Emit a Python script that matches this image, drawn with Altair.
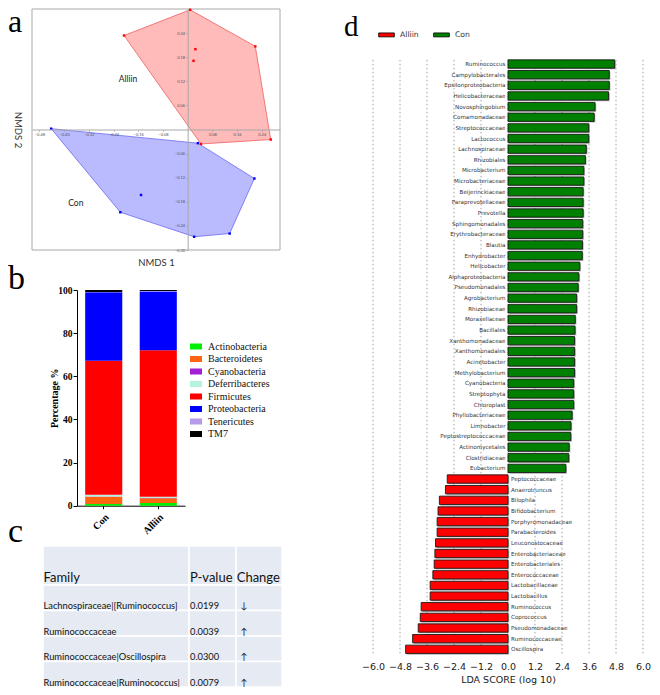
import altair as alt
import pandas as pd

# ====================== DATA ======================
# (a) NMDS ordination
NMDS_GROUP = ["Alliin"] * 7 + ["Con"] * 7
NMDS1 = [0.008, -0.206, 0.219, 0.025, 0.019, 0.269, 0.043,
         -0.442, 0.033, 0.216, 0.136, 0.021, -0.218, -0.151]
NMDS2 = [0.298, 0.234, 0.207, 0.200, 0.171, -0.025, -0.036,
         0.002, -0.034, -0.122, -0.259, -0.267, -0.206, -0.163]
HULL_ALLIIN = [0, 2, 5, 6, 1, 0]
HULL_CON = [7, 8, 9, 10, 11, 12, 7]
GROUP_NAMES = ["Alliin", "Con"]
GROUP_LABEL_X = [-0.193, -0.362]
GROUP_LABEL_Y = [0.126, -0.183]
NMDS1_TICKS = [-0.48, -0.40, -0.32, -0.24, -0.16, -0.08, 0.08, 0.16, 0.24]
NMDS2_TICKS = [0.24, 0.18, 0.12, 0.06, -0.06, -0.12, -0.18, -0.24, -0.30]

# (b) phylum composition (%)
SAMPLES = ["Con", "Alliin"]
PHYLA = ["Actinobacteria", "Bacteroidetes", "Cyanobacteria", "Deferribacteres",
         "Firmicutes", "Proteobacteria", "Tenericutes", "TM7"]
CON_PCT = [0.8, 3.4, 0.1, 0.8, 62.1, 31.8, 0.1, 0.9]
ALLIIN_PCT = [1.3, 2.2, 0.1, 0.5, 68.0, 27.2, 0.2, 0.5]
PCT_TICKS = [0, 20, 40, 60, 80, 100]

# (c) table
TABLE_HEADER = ["Family", "P-value", "Change"]
FAMILY = ["Lachnospiraceae|[Ruminococcus]", "Ruminococcaceae",
          "Ruminococcaceae|Oscillospira", "Ruminococcaceae|Ruminococcus|"]
PVALUE = ["0.0199", "0.0039", "0.0300", "0.0079"]
CHANGE = ["\u2193", "\u2191", "\u2191", "\u2191"]

# (d) LEfSe LDA scores
LDA_TAXA = ["Ruminococcus", "Campylobacterales", "Epsilonproteobacteria", "Helicobacteraceae",
            "Novosphingobium", "Comamonadaceae", "Streptococcaceae", "Lactococcus",
            "Lachnospiraceae", "Rhizobiales", "Microbacterium", "Microbacteriaceae",
            "Beijerinckiaceae", "Paraprevotellaceae", "Prevotella", "Sphingomonadales",
            "Erythrobacteraceae", "Blautia", "Enhydrobacter", "Helicobacter",
            "Alphaproteobacteria", "Pseudomonadales", "Agrobacterium", "Rhizobiaceae",
            "Moraxellaceae", "Bacillales", "Xanthomonadaceae", "Xanthomonadales",
            "Acinetobacter", "Methylobacterium", "Cyanobacteria", "Streptophyta",
            "Chloroplast", "Phyllobacteriaceae", "Limnobacter", "Peptostreptococcaceae",
            "Actinomycetales", "Clostridiaceae", "Eubacterium",
            "Peptococcaceae", "Anaerotruncus", "Bilophila", "Bifidobacterium",
            "Porphyromonadaceae", "Parabacteroides", "Leuconostocaceae", "Enterobacteriaceae",
            "Enterobacteriales", "Enterococcaceae", "Lactobacillaceae", "Lactobacillus",
            "Ruminococcus", "Coprococcus", "Pseudomonadaceae", "Ruminococcaceae", "Oscillospira"]
LDA_GROUP = ["Con"] * 39 + ["Alliin"] * 17
LDA_SCORE = [4.74, 4.50, 4.50, 4.47, 3.87, 3.83, 3.59, 3.59, 3.48, 3.44, 3.37, 3.37,
             3.34, 3.34, 3.34, 3.32, 3.32, 3.31, 3.30, 3.19, 3.15, 3.12, 3.05, 3.05,
             2.99, 2.98, 2.96, 2.96, 2.96, 2.96, 2.92, 2.92, 2.92, 2.85, 2.80, 2.79,
             2.72, 2.70, 2.57,
             -2.70, -2.78, -3.05, -3.11, -3.15, -3.15, -3.22, -3.25, -3.28, -3.34,
             -3.46, -3.46, -3.86, -3.90, -3.99, -4.24, -4.55]
LDA_TICKS = [-6.0, -4.8, -3.6, -2.4, -1.2, 0.0, 1.2, 2.4, 3.6, 4.8, 6.0]

# panel letters
LETTERS = ["a", "b", "c", "d"]

# ====================== LAYOUT / STYLE ======================
W, H = 644, 679
SERIF = "Liberation Serif"
SANS = "DejaVu Sans"
CALI = "Lato"

# ---------------- panel a ----------------
A_XDOM, A_YDOM = [-0.504, 0.299], [-0.30, 0.30]
A_XR, A_YR = [24, 272], [242, 1]
ax0 = A_XR[0] + (0 - A_XDOM[0]) / (A_XDOM[1] - A_XDOM[0]) * (A_XR[1] - A_XR[0])
ay0 = A_YR[0] + (0 - A_YDOM[0]) / (A_YDOM[1] - A_YDOM[0]) * (A_YR[1] - A_YR[0])
A_XS = alt.Scale(domain=A_XDOM, range=A_XR, nice=False, zero=False)
A_YS = alt.Scale(domain=A_YDOM, range=A_YR, nice=False, zero=False)
AX_COMMON = dict(format=".2f", labelFontSize=4, labelColor="#555", labelFont=CALI,
                 tickSize=2, tickColor="#999", tickWidth=0.6, domainColor="#a8a8a8",
                 domainWidth=1, grid=False, labelOverlap=False, labelPadding=1, zindex=1,
                 titleFont=CALI, titleFontSize=9.5, titleFontWeight="normal",
                 titleColor="#333", titleAlign="center", titleBaseline="middle")
A_XAXIS = alt.Axis(orient="bottom", offset=ay0 - H, values=NMDS1_TICKS, title="NMDS 1",
                   titleX=(A_XR[0] + A_XR[1]) / 2, titleY=254 - ay0, **AX_COMMON)
A_YAXIS = alt.Axis(orient="left", offset=-ax0, values=NMDS2_TICKS, title="NMDS 2",
                   titleAngle=90, titleX=9 - ax0, titleY=(A_YR[0] + A_YR[1]) / 2, **AX_COMMON)


def ax_x(field="x"):
    return alt.X(f"{field}:Q", scale=A_XS, axis=A_XAXIS)


def ax_y(field="y"):
    return alt.Y(f"{field}:Q", scale=A_YS, axis=A_YAXIS)


frame_df = pd.DataFrame({"x": [A_XDOM[0]], "x2": [A_XDOM[1]], "y": [A_YDOM[0]], "y2": [A_YDOM[1]]})
a_frame = alt.Chart(frame_df).mark_rect(fillOpacity=0, stroke="#a8a8a8", strokeWidth=1).encode(
    x=ax_x(), x2="x2:Q", y=ax_y(), y2="y2:Q")


def hull_df(idx):
    return pd.DataFrame({"x": [NMDS1[i] for i in idx], "y": [NMDS2[i] for i in idx],
                         "ord": list(range(len(idx)))})


a_poly_r = alt.Chart(hull_df(HULL_ALLIIN)).mark_line(
    fill="#ff0000", fillOpacity=0.27, stroke="#f06060", strokeWidth=0.8).encode(
    x=ax_x(), y=ax_y(), order="ord:Q")
a_poly_b = alt.Chart(hull_df(HULL_CON)).mark_line(
    fill="#0000ff", fillOpacity=0.27, stroke="#6a6af0", strokeWidth=0.8).encode(
    x=ax_x(), y=ax_y(), order="ord:Q")
pts_df = pd.DataFrame({"x": NMDS1, "y": NMDS2, "group": NMDS_GROUP})
a_pts = alt.Chart(pts_df).mark_square(size=6, opacity=1).encode(
    x=ax_x(), y=ax_y(),
    color=alt.Color("group:N", scale=alt.Scale(domain=GROUP_NAMES, range=["#ff0000", "#0000ff"]),
                    legend=None))
lab_df = pd.DataFrame({"x": GROUP_LABEL_X, "y": GROUP_LABEL_Y, "t": GROUP_NAMES})
a_lab = alt.Chart(lab_df).mark_text(font=CALI, fontSize=8.5, color="#222", align="center",
                                     baseline="middle").encode(x=ax_x(), y=ax_y(), text="t:N")
panel_a = alt.layer(a_frame, a_poly_b, a_poly_r, a_pts, a_lab)

# ---------------- panel b ----------------
B_XR, B_YR = [69, 177], [497.7, 282]
B_XS = alt.Scale(domain=SAMPLES, range=B_XR, paddingInner=0.32, paddingOuter=0.15)
B_YS = alt.Scale(domain=[0, 100], range=B_YR, nice=False, zero=False)
B_XAXIS = alt.Axis(orient="bottom", offset=B_YR[0] - H, title=None, labelAngle=-45,
                   labelFont=SERIF, labelFontWeight="bold", labelFontSize=10, labelColor="#000",
                   tickColor="#000", tickSize=3, tickWidth=1, domainColor="#000", domainWidth=1,
                   labelPadding=3, grid=False)
B_YAXIS = alt.Axis(orient="left", offset=-B_XR[0], values=PCT_TICKS, title="Percentage %",
                   labelFont=SERIF, labelFontWeight="bold", labelFontSize=9.5, labelColor="#000",
                   tickColor="#000", tickSize=4, tickWidth=1, domainColor="#000", domainWidth=1,
                   labelPadding=1, grid=False, titleFont=SERIF, titleFontWeight="bold",
                   titleFontSize=10, titleColor="#000", titleX=46 - B_XR[0],
                   titleY=(B_YR[0] + B_YR[1]) / 2, titleAngle=-90, titleAlign="center",
                   titleBaseline="middle")
PHYLA_COLORS = ["#00ee00", "#ff6410", "#a21fd6", "#b4f3dc", "#ff0000", "#0000ff", "#b59be8", "#000000"]
rows = []
for s, vals in zip(SAMPLES, [CON_PCT, ALLIIN_PCT]):
    for k, (p, v) in enumerate(zip(PHYLA, vals)):
        rows.append({"sample": s, "phylum": p, "pct": v, "ord": k})
b_df = pd.DataFrame(rows)
B_LEGEND = alt.Legend(orient="none", legendX=182, legendY=332.5, title=None,
                      symbolType="M-1,-0.5H1V0.5H-1Z", symbolSize=144, symbolStrokeWidth=0,
                      labelFont=SERIF, labelFontSize=10, labelColor="#111", labelOffset=6,
                      rowPadding=1.5, padding=0, labelLimit=200)
panel_b = alt.Chart(b_df).mark_bar().encode(
    x=alt.X("sample:N", scale=B_XS, axis=B_XAXIS),
    y=alt.Y("pct:Q", scale=B_YS, axis=B_YAXIS, stack="zero"),
    color=alt.Color("phylum:N", scale=alt.Scale(domain=PHYLA, range=PHYLA_COLORS), legend=B_LEGEND),
    order=alt.Order("ord:Q", sort="ascending"))

# ---------------- panel c (table) ----------------
COL_W = [146, 47, 46]
ROW_H = [39, 25.5, 25.5, 25.5, 25.5]
TEXT_PAD = [0.5, 1.0, 0.7]
BODY_PAD = [0.5, 1.0, 4.5]
col_x = [sum(COL_W[:i]) for i in range(len(COL_W) + 1)]
row_y = [sum(ROW_H[:i]) for i in range(len(ROW_H) + 1)]
C_XS = alt.Scale(domain=[0, col_x[-1]], range=[35, 35 + col_x[-1]], nice=False, zero=False)
C_YS = alt.Scale(domain=[0, row_y[-1]], range=[538, 538 + row_y[-1]], nice=False, zero=False)
cells = []
for r in range(len(ROW_H)):
    for c in range(len(COL_W)):
        cells.append({"x": col_x[c], "x2": col_x[c + 1], "y": row_y[r], "y2": row_y[r + 1]})
c_cells = alt.Chart(pd.DataFrame(cells)).mark_rect(fill="#e6ebf3", stroke="white", strokeWidth=1.5).encode(
    x=alt.X("x:Q", scale=C_XS, axis=None), x2="x2:Q",
    y=alt.Y("y:Q", scale=C_YS, axis=None), y2="y2:Q")
head_df = pd.DataFrame({"x": [col_x[c] + TEXT_PAD[c] for c in range(3)],
                        "y": [row_y[1] - 7] * 3, "t": TABLE_HEADER})
c_head = alt.Chart(head_df).mark_text(font=CALI, fontSize=13, color="#111", align="left",
                                      baseline="middle").encode(
    x=alt.X("x:Q", scale=C_XS, axis=None), y=alt.Y("y:Q", scale=C_YS, axis=None), text="t:N")
body = []
for r, vals in enumerate(zip(FAMILY, PVALUE, CHANGE)):
    for c, v in enumerate(vals):
        body.append({"x": col_x[c] + BODY_PAD[c], "y": row_y[r + 2] - 4.5, "t": v})
c_body = alt.Chart(pd.DataFrame(body)).mark_text(font=CALI, fontSize=9.3, color="#111", align="left",
                                                 baseline="middle").encode(
    x=alt.X("x:Q", scale=C_XS, axis=None), y=alt.Y("y:Q", scale=C_YS, axis=None), text="t:N")
panel_c = alt.layer(c_cells, c_head, c_body)

# ---------------- panel d ----------------
D_XR, D_YR = [365, 635], [50.7, 646.6]
keys = [f"{i:02d}" for i in range(len(LDA_TAXA))]
D_XS = alt.Scale(domain=[-6, 6], range=D_XR, nice=False, zero=False)
D_YS = alt.Scale(domain=keys, range=D_YR, paddingInner=0.22, paddingOuter=0.11)
D_XAXIS = alt.Axis(orient="bottom", offset=649 - H, values=LDA_TICKS, format=".1f", grid=False,
                   domain=False, ticks=False, labelFont=SANS, labelFontSize=9.5, labelColor="#222",
                   labelPadding=4, labelOverlap=False, labelFlush=False,
                   title="LDA SCORE (log 10)", titleFont=SANS, titleFontSize=9.5,
                   titleFontWeight="normal", titleColor="#222", titleX=(D_XR[0] + D_XR[1]) / 2,
                   titleY=22, titleAlign="center", titleBaseline="middle")
d_df = pd.DataFrame({"key": keys, "taxon": LDA_TAXA, "group": LDA_GROUP, "score": LDA_SCORE})
D_LEGEND = alt.Legend(orient="none", legendX=370, legendY=18, direction="horizontal", title=None,
                      symbolType="M-1,-0.25H1V0.25H-1Z", symbolSize=246, symbolStrokeColor="#000",
                      symbolStrokeWidth=0.8, labelFont=SANS, labelFontSize=7.7, labelColor="#333",
                      labelOffset=5, columnPadding=13, padding=0)
grid_df = pd.DataFrame({"t": LDA_TICKS})
d_grid = alt.Chart(grid_df).mark_rule(color="#888", strokeDash=[1.5, 2.5], strokeWidth=0.8).encode(
    x=alt.X("t:Q", scale=D_XS, axis=D_XAXIS),
    y=alt.Y(datum=keys[0], type="ordinal", scale=D_YS, axis=None, bandPosition=0),
    y2=alt.Y2(datum=keys[-1], bandPosition=1))
d_shadow = alt.Chart(d_df).mark_bar(color="#b5b5b5", xOffset=1.2, x2Offset=1.2, yOffset=1.2,
                                    y2Offset=1.2).encode(
    x=alt.X("score:Q", scale=D_XS, axis=D_XAXIS), y=alt.Y("key:O", scale=D_YS, axis=None))
d_bars = alt.Chart(d_df).mark_bar(stroke="#1a1a1a", strokeWidth=0.9).encode(
    x=alt.X("score:Q", scale=D_XS, axis=D_XAXIS),
    y=alt.Y("key:O", scale=D_YS, axis=None),
    color=alt.Color("group:N", scale=alt.Scale(domain=["Alliin", "Con"], range=["#ff0000", "#008000"]),
                    legend=D_LEGEND))
d_lab_con = alt.Chart(d_df).transform_filter(alt.datum.group == "Con").mark_text(
    align="right", dx=-2.5, font=SANS, fontSize=5.6, color="#333", baseline="middle").encode(
    x=alt.X(datum=0, type="quantitative", scale=D_XS, axis=D_XAXIS),
    y=alt.Y("key:O", scale=D_YS, axis=None), text="taxon:N")
d_lab_all = alt.Chart(d_df).transform_filter(alt.datum.group == "Alliin").mark_text(
    align="left", dx=3, font=SANS, fontSize=5.6, color="#333", baseline="middle").encode(
    x=alt.X(datum=0, type="quantitative", scale=D_XS, axis=D_XAXIS),
    y=alt.Y("key:O", scale=D_YS, axis=None), text="taxon:N")
panel_d = alt.layer(d_grid, d_shadow, d_bars, d_lab_con, d_lab_all)

# ---------------- panel letters ----------------
let_df = pd.DataFrame({"t": LETTERS, "px": [0, 0, 0, 336], "py": [24, 281, 534, 28],
                       "fs": [32, 34, 34, 29]})
letters = alt.Chart(let_df).mark_text(font=SERIF, color="#000", align="left",
                                      baseline="alphabetic").encode(
    x=alt.X("px:Q", scale=None), y=alt.Y("py:Q", scale=None),
    size=alt.Size("fs:Q", scale=None), text="t:N")

chart = alt.layer(panel_a, panel_b, panel_c, panel_d, letters).resolve_scale(
    x="independent", y="independent", color="independent", size="independent"
).properties(
    width=W, height=H, padding=0, autosize=alt.AutoSizeParams(type="none"), background="white"
).configure_view(strokeWidth=0)

chart.save("out.html", embed_options={"renderer": "svg", "actions": False})
